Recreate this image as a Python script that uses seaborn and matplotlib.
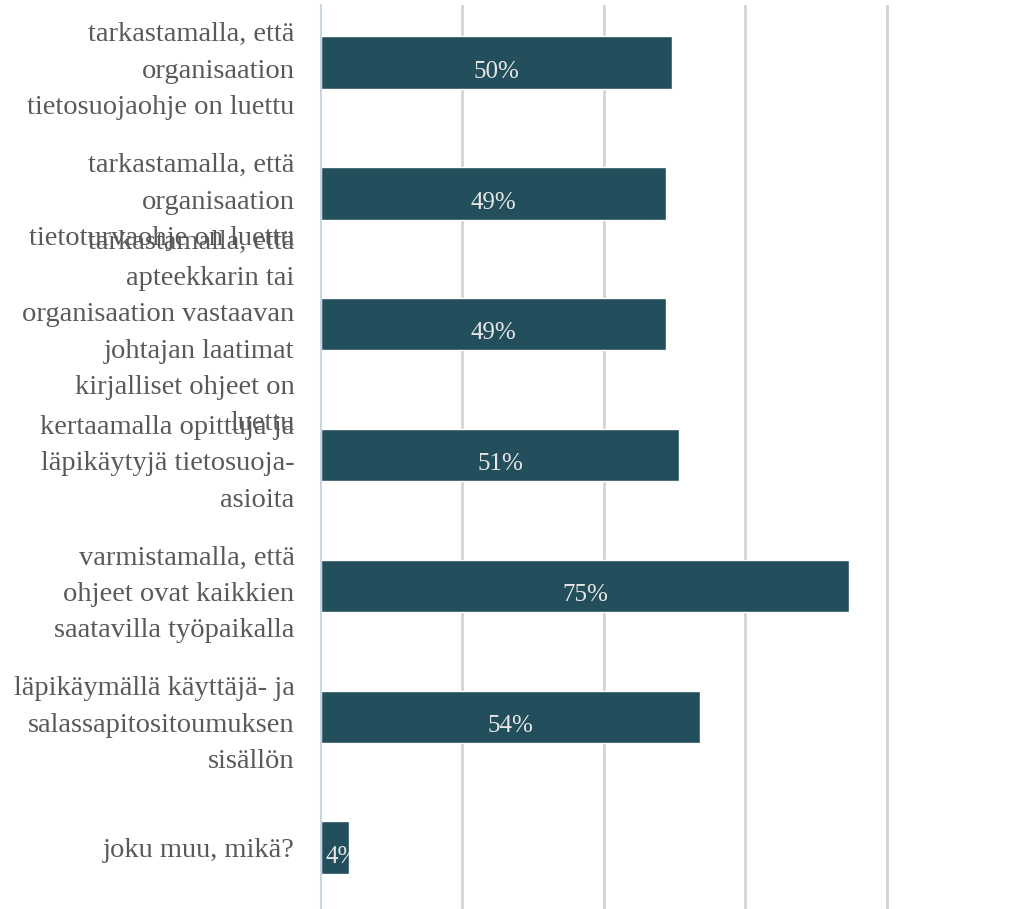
import matplotlib
matplotlib.use("Agg")
import matplotlib.pyplot as plt
import seaborn as sns
import pandas as pd

# answers (y axis) and share of respondents (%)
categories = [
    "tarkastamalla, että\norganisaation\ntietosuojaohje on luettu",
    "tarkastamalla, että\norganisaation\ntietoturvaohje on luettu",
    "tarkastamalla, että\napteekkarin tai\norganisaation vastaavan\njohtajan laatimat\nkirjalliset ohjeet on\nluettu",
    "kertaamalla opittuja ja\nläpikäytyjä tietosuoja-\nasioita",
    "varmistamalla, että\nohjeet ovat kaikkien\nsaatavilla työpaikalla",
    "läpikäymällä käyttäjä- ja\nsalassapitositoumuksen\nsisällön",
    "joku muu, mikä?",
]
values = [49.6, 48.8, 48.8, 50.6, 74.6, 53.6, 3.9]
gridlines = [20, 40, 60, 80]

bar_color = "#234e5b"

sns.set_style("white")
plt.rcParams["font.family"] = ["Liberation Serif", "DejaVu Serif"]

df = pd.DataFrame({"answer": categories, "share": values})

fig = plt.figure(figsize=(10.2, 9.09), dpi=100)
ax = fig.add_axes([321 / 1020, 0, 707.5 / 1020, 904 / 909])

sns.barplot(data=df, x="share", y="answer", orient="h", color=bar_color,
            width=0.4, saturation=1, ax=ax)

ax.set_xlim(0, 100)
ax.set_ylim(6.47, -0.44)

for g in gridlines:
    ax.axvline(g, color="#d4d4d4", lw=2, zorder=0)

for s in ["top", "right", "bottom"]:
    ax.spines[s].set_visible(False)
ax.spines["left"].set_color("#c9d5e2")
ax.spines["left"].set_linewidth(1.5)

ax.set_xticks([])
ax.set_xlabel("")
ax.set_ylabel("")
ax.tick_params(axis="y", length=0, pad=19)
for lbl in ax.get_yticklabels():
    lbl.set_fontsize(20.5)
    lbl.set_color("#595959")
    lbl.set_multialignment("right")
    lbl.set_linespacing(1.6)

# percentage labels inside the bars, clipped to the bar
for bar, v in zip(ax.patches, values):
    cx = bar.get_x() + bar.get_width() / 2
    cy = bar.get_y() + bar.get_height() / 2 + 0.07
    ha = "center"
    if v < 10:
        cx = bar.get_x() + 0.7
        ha = "left"
    t = ax.text(cx, cy, f"{v:.0f}%", ha=ha, va="center",
                fontsize=18, color="#e6e6e6", clip_on=True)
    t.set_clip_path(bar)

fig.savefig("out.png", dpi=100)
